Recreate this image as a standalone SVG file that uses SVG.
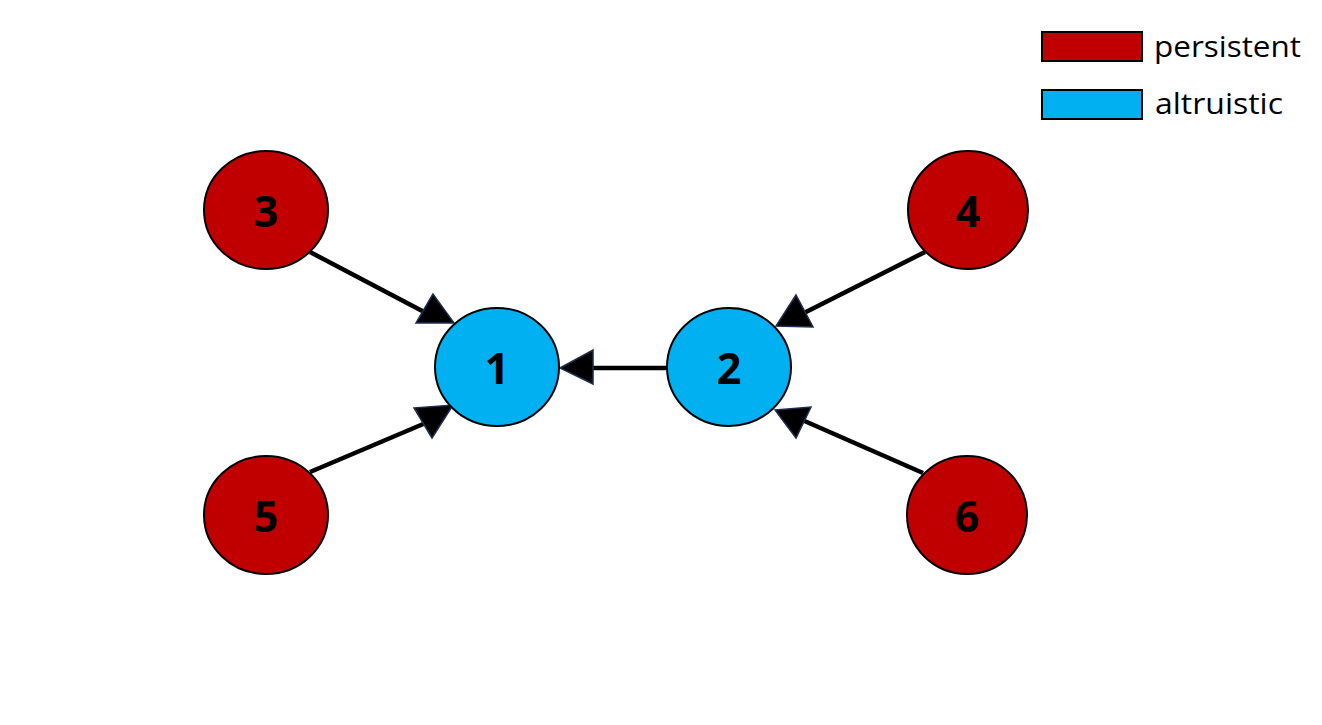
<svg xmlns="http://www.w3.org/2000/svg" width="1322" height="725" viewBox="0 0 1322 725">
<style>
.p{fill:#C00000;stroke:#000;stroke-width:2}
.a{fill:#00B0F0;stroke:#000;stroke-width:2}
.n{font-family:"Open Sans","Noto Sans",sans-serif;font-weight:bold;font-size:43px;text-anchor:middle;fill:#000}
.l{font-family:"Open Sans","Noto Sans",sans-serif;font-size:30px;fill:#000}
.e{stroke:#000;stroke-width:4.5;fill:none}
.h{fill:#000;stroke:#1F2D4F;stroke-width:1.5;stroke-linejoin:miter}
</style>
<rect width="1322" height="725" fill="#fff"/>
<g id="connectors">
<line class="e" x1="310" y1="252" x2="428" y2="314"/>
<polygon class="h" points="433,294 416,323 454,323"/>
<line class="e" x1="310" y1="472" x2="428" y2="422"/>
<polygon class="h" points="414,408 453,405 432,438"/>
<line class="e" x1="667" y1="368" x2="590" y2="368"/>
<polygon class="h" points="560,368 593,350 593,384"/>
<line class="e" x1="925" y1="252" x2="802" y2="314"/>
<polygon class="h" points="796,295 776,326 813,327"/>
<line class="e" x1="923" y1="473" x2="800" y2="419"/>
<polygon class="h" points="775,410 811,407 796,438"/>
</g>
<g id="node1"><ellipse class="a" cx="497" cy="367" rx="62" ry="59"/><text class="n" x="497" y="384">1</text></g>
<g id="node2"><ellipse class="a" cx="729" cy="367" rx="62" ry="59"/><text class="n" x="729" y="384">2</text></g>
<g id="node3"><ellipse class="p" cx="266" cy="210" rx="62" ry="59"/><text class="n" x="266" y="227">3</text></g>
<g id="node4"><ellipse class="p" cx="968" cy="210" rx="60" ry="59"/><text class="n" x="968" y="227">4</text></g>
<g id="node5"><ellipse class="p" cx="266" cy="515" rx="62" ry="59"/><text class="n" x="266" y="532">5</text></g>
<g id="node6"><ellipse class="p" cx="967" cy="515" rx="60" ry="59"/><text class="n" x="967" y="532">6</text></g>
<g id="legend">
<rect class="p" x="1042" y="32" width="100" height="29"/>
<text class="l" x="1154" y="57" textLength="147" lengthAdjust="spacingAndGlyphs">persistent</text>
<rect class="a" x="1042" y="90" width="100" height="29"/>
<text class="l" x="1155" y="114" textLength="128" lengthAdjust="spacingAndGlyphs">altruistic</text>
</g>
</svg>
